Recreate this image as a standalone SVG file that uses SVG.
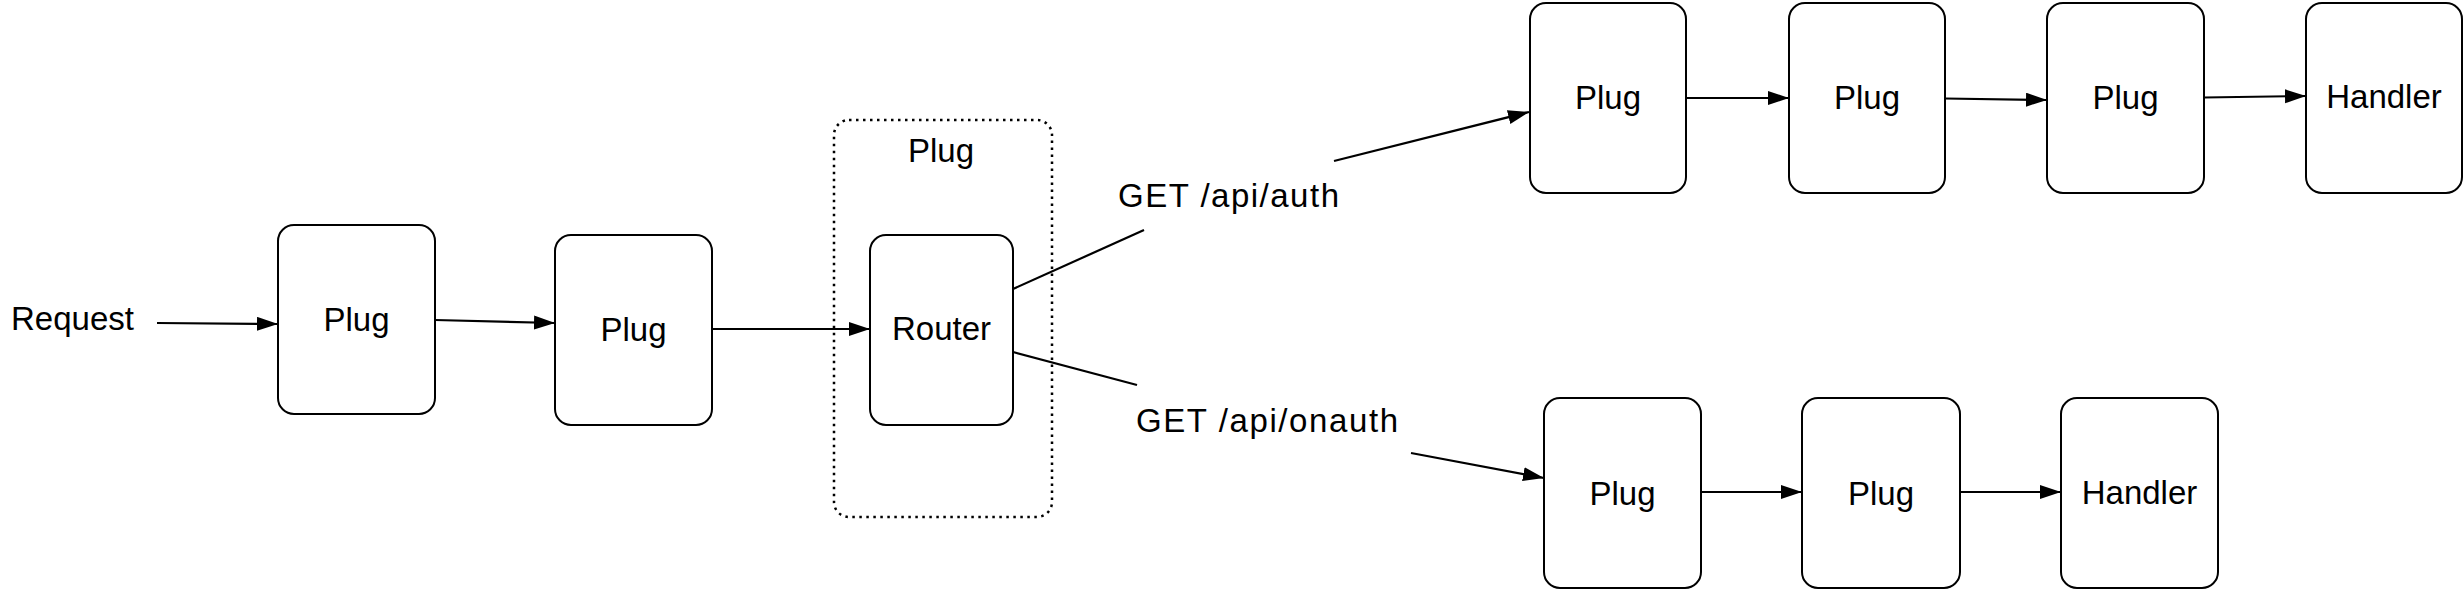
<svg xmlns="http://www.w3.org/2000/svg" width="2464" height="591" viewBox="0 0 2464 591">
  <defs>
    <marker id="arrow" markerUnits="userSpaceOnUse" markerWidth="22" markerHeight="15" refX="21" refY="7" orient="auto">
      <path d="M0,0 L21,7 L0,14 Z" fill="#000"/>
    </marker>
    <style>
      .box { fill: #fff; stroke: #000; stroke-width: 2; }
      .group { fill: none; stroke: #000; stroke-width: 2.5; stroke-dasharray: 2.5 4.5; }
      .lbl { font-family: "Liberation Sans", Arial, Helvetica, sans-serif; font-size: 33px; fill: #000; text-anchor: middle; }
      .free { font-family: "Liberation Sans", Arial, Helvetica, sans-serif; font-size: 33px; fill: #000; }
      .edge { fill: none; stroke: #000; stroke-width: 2.2; }
      .arr { marker-end: url(#arrow); }
    </style>
  </defs>
  <rect width="2464" height="591" fill="#fff"/>

  <g id="plug-router-group">
    <rect class="group" x="834" y="120" width="218" height="397" rx="15"/>
    <text class="lbl" x="941" y="162">Plug</text>
  </g>

  <g id="request">
    <text class="free" x="11" y="330">Request</text>
  </g>

  <g id="plug1">
    <rect class="box" x="278" y="225" width="157" height="189" rx="16"/>
    <text class="lbl" x="356.5" y="331">Plug</text>
  </g>
  <g id="plug2">
    <rect class="box" x="555" y="235" width="157" height="190" rx="16"/>
    <text class="lbl" x="633.5" y="341">Plug</text>
  </g>
  <g id="router">
    <rect class="box" x="870" y="235" width="143" height="190" rx="16"/>
    <text class="lbl" x="941.5" y="340">Router</text>
  </g>

  <g id="auth-plug1">
    <rect class="box" x="1530" y="3" width="156" height="190" rx="16"/>
    <text class="lbl" x="1608" y="109">Plug</text>
  </g>
  <g id="auth-plug2">
    <rect class="box" x="1789" y="3" width="156" height="190" rx="16"/>
    <text class="lbl" x="1867" y="109">Plug</text>
  </g>
  <g id="auth-plug3">
    <rect class="box" x="2047" y="3" width="157" height="190" rx="16"/>
    <text class="lbl" x="2125.5" y="109">Plug</text>
  </g>
  <g id="auth-handler">
    <rect class="box" x="2306" y="3" width="156" height="190" rx="16"/>
    <text class="lbl" x="2384" y="108">Handler</text>
  </g>

  <g id="onauth-plug1">
    <rect class="box" x="1544" y="398" width="157" height="190" rx="16"/>
    <text class="lbl" x="1622.5" y="505">Plug</text>
  </g>
  <g id="onauth-plug2">
    <rect class="box" x="1802" y="398" width="158" height="190" rx="16"/>
    <text class="lbl" x="1881" y="505">Plug</text>
  </g>
  <g id="onauth-handler">
    <rect class="box" x="2061" y="398" width="157" height="190" rx="16"/>
    <text class="lbl" x="2139.5" y="504">Handler</text>
  </g>

  <g id="connectors">
    <line class="edge arr" x1="157" y1="323" x2="278" y2="324"/>
    <line class="edge arr" x1="435" y1="320" x2="555" y2="323"/>
    <line class="edge arr" x1="712" y1="329" x2="870" y2="329"/>

    <line class="edge" x1="1013" y1="289" x2="1144" y2="230"/>
    <line class="edge arr" x1="1334" y1="161" x2="1529" y2="112"/>
    <text class="free" x="1118" y="207" textLength="221">GET /api/auth</text>

    <line class="edge" x1="1013" y1="352" x2="1137" y2="385"/>
    <line class="edge arr" x1="1411" y1="453" x2="1544" y2="478"/>
    <text class="free" x="1136" y="432" textLength="262">GET /api/onauth</text>

    <line class="edge arr" x1="1686" y1="98" x2="1789" y2="98"/>
    <line class="edge arr" x1="1945" y1="98.5" x2="2047" y2="100"/>
    <line class="edge arr" x1="2204" y1="97.5" x2="2306" y2="96"/>

    <line class="edge arr" x1="1701" y1="492" x2="1802" y2="492"/>
    <line class="edge arr" x1="1960" y1="492" x2="2061" y2="492"/>
  </g>
</svg>
